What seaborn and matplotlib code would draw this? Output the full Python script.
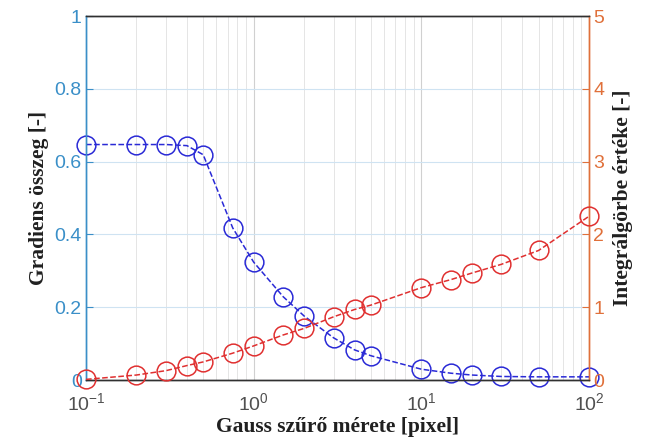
import numpy as np
import pandas as pd
import seaborn as sns
import matplotlib
matplotlib.use("Agg")
import matplotlib.pyplot as plt
from matplotlib.ticker import LogLocator, NullFormatter

# Data
filter_size = [0.1, 0.2, 0.3, 0.4, 0.5, 0.75, 1, 1.5, 2, 3, 4, 5, 10, 15, 20, 30, 50, 100]
gradient_sum = [0.647, 0.647, 0.647, 0.644, 0.619, 0.418, 0.324, 0.229, 0.176, 0.116,
                0.083, 0.067, 0.030, 0.019, 0.014, 0.010, 0.009, 0.009]
integral_value = [0.01, 0.07, 0.13, 0.20, 0.25, 0.37, 0.47, 0.62, 0.71, 0.87,
                  0.97, 1.03, 1.27, 1.38, 1.47, 1.59, 1.78, 2.25]
left_ticks = [0, 0.2, 0.4, 0.6, 0.8, 1]
left_ticklabels = ["0", "0.2", "0.4", "0.6", "0.8", "1"]
right_ticks = [0, 1, 2, 3, 4, 5]
x_ticks = [0.1, 1, 10, 100]
x_ticklabels = [r"$10^{-1}$", r"$10^{0}$", r"$10^{1}$", r"$10^{2}$"]
xlabel = "Gauss szűrő mérete [pixel]"
ylabel_left = "Gradiens összeg [-]"
ylabel_right = "Integrálgörbe értéke [-]"

df = pd.DataFrame({"x": filter_size, "g": gradient_sum, "i": integral_value})

sns.set_style("white")
plt.rcParams["font.family"] = ["Liberation Sans", "DejaVu Sans"]
plt.rcParams["mathtext.fontset"] = "custom"
plt.rcParams["mathtext.rm"] = "Liberation Sans"
plt.rcParams["mathtext.it"] = "Liberation Sans"

LEFT_C = "#3a8fc8"
RIGHT_C = "#e0703a"

fig = plt.figure(figsize=(6.59, 4.42), dpi=100)
ax = fig.add_axes([0.1305, 0.14, 0.7633, 0.8238])
ax2 = ax.twinx()

sns.lineplot(data=df, x="x", y="g", ax=ax, color="#2a2ad6", linestyle="--",
             marker="o", markersize=13.5, markerfacecolor="none",
             markeredgecolor="#2a2ad6", markeredgewidth=1.1, linewidth=1.1,
             clip_on=False, zorder=5)
sns.lineplot(data=df, x="x", y="i", ax=ax2, color="#e03030", linestyle="--",
             marker="o", markersize=13.5, markerfacecolor="none",
             markeredgecolor="#e03030", markeredgewidth=1.1, linewidth=1.1,
             clip_on=False, zorder=5)

for a in (ax, ax2):
    a.set_xscale("log")
    a.set_xlim(0.1, 100)

ax.set_ylim(0, 1)
ax2.set_ylim(0, 5)

ax.set_xticks(x_ticks)
ax.set_xticklabels(x_ticklabels, fontsize=14, color="#505050")
ax.xaxis.set_minor_locator(LogLocator(base=10, subs=np.arange(2, 10)))
ax.xaxis.set_minor_formatter(NullFormatter())

ax.set_yticks(left_ticks)
ax.set_yticklabels(left_ticklabels, fontsize=14, color=LEFT_C)
ax2.set_yticks(right_ticks)
ax2.set_yticklabels([str(t) for t in right_ticks], fontsize=14, color=RIGHT_C)

# Grid
ax.grid(True, which="major", axis="y", color="#cfe3f2", linewidth=0.8)
ax.grid(True, which="major", axis="x", color="#d0d0d0", linewidth=0.8)
ax.grid(True, which="minor", axis="x", color="#e0e0e0", linewidth=0.6)
ax.set_axisbelow(True)

ax.tick_params(axis="x", which="both", direction="in", color="#404040", pad=9)
ax.tick_params(axis="x", which="major", length=5)
ax.tick_params(axis="x", which="minor", length=3)
ax.tick_params(axis="y", direction="in", color=LEFT_C, length=5, pad=3)
ax2.tick_params(axis="y", direction="in", color=RIGHT_C, length=5, pad=3)

for a in (ax, ax2):
    a.spines["top"].set_color("#303030")
    a.spines["bottom"].set_color("#303030")
    a.spines["left"].set_color(LEFT_C)
    a.spines["right"].set_color(RIGHT_C)
    for s in a.spines.values():
        s.set_linewidth(1.0)

serif = ["Liberation Serif", "DejaVu Serif"]
ax.set_xlabel(xlabel, fontsize=15.5, fontweight="bold", family=serif, color="#202020", labelpad=2)
ax.set_ylabel(ylabel_left, fontsize=15.5, fontweight="bold", family=serif, color="#202020", labelpad=4)
ax2.set_ylabel(ylabel_right, fontsize=15.5, fontweight="bold", family=serif, color="#202020", labelpad=6)

fig.savefig("out.png", dpi=100)
